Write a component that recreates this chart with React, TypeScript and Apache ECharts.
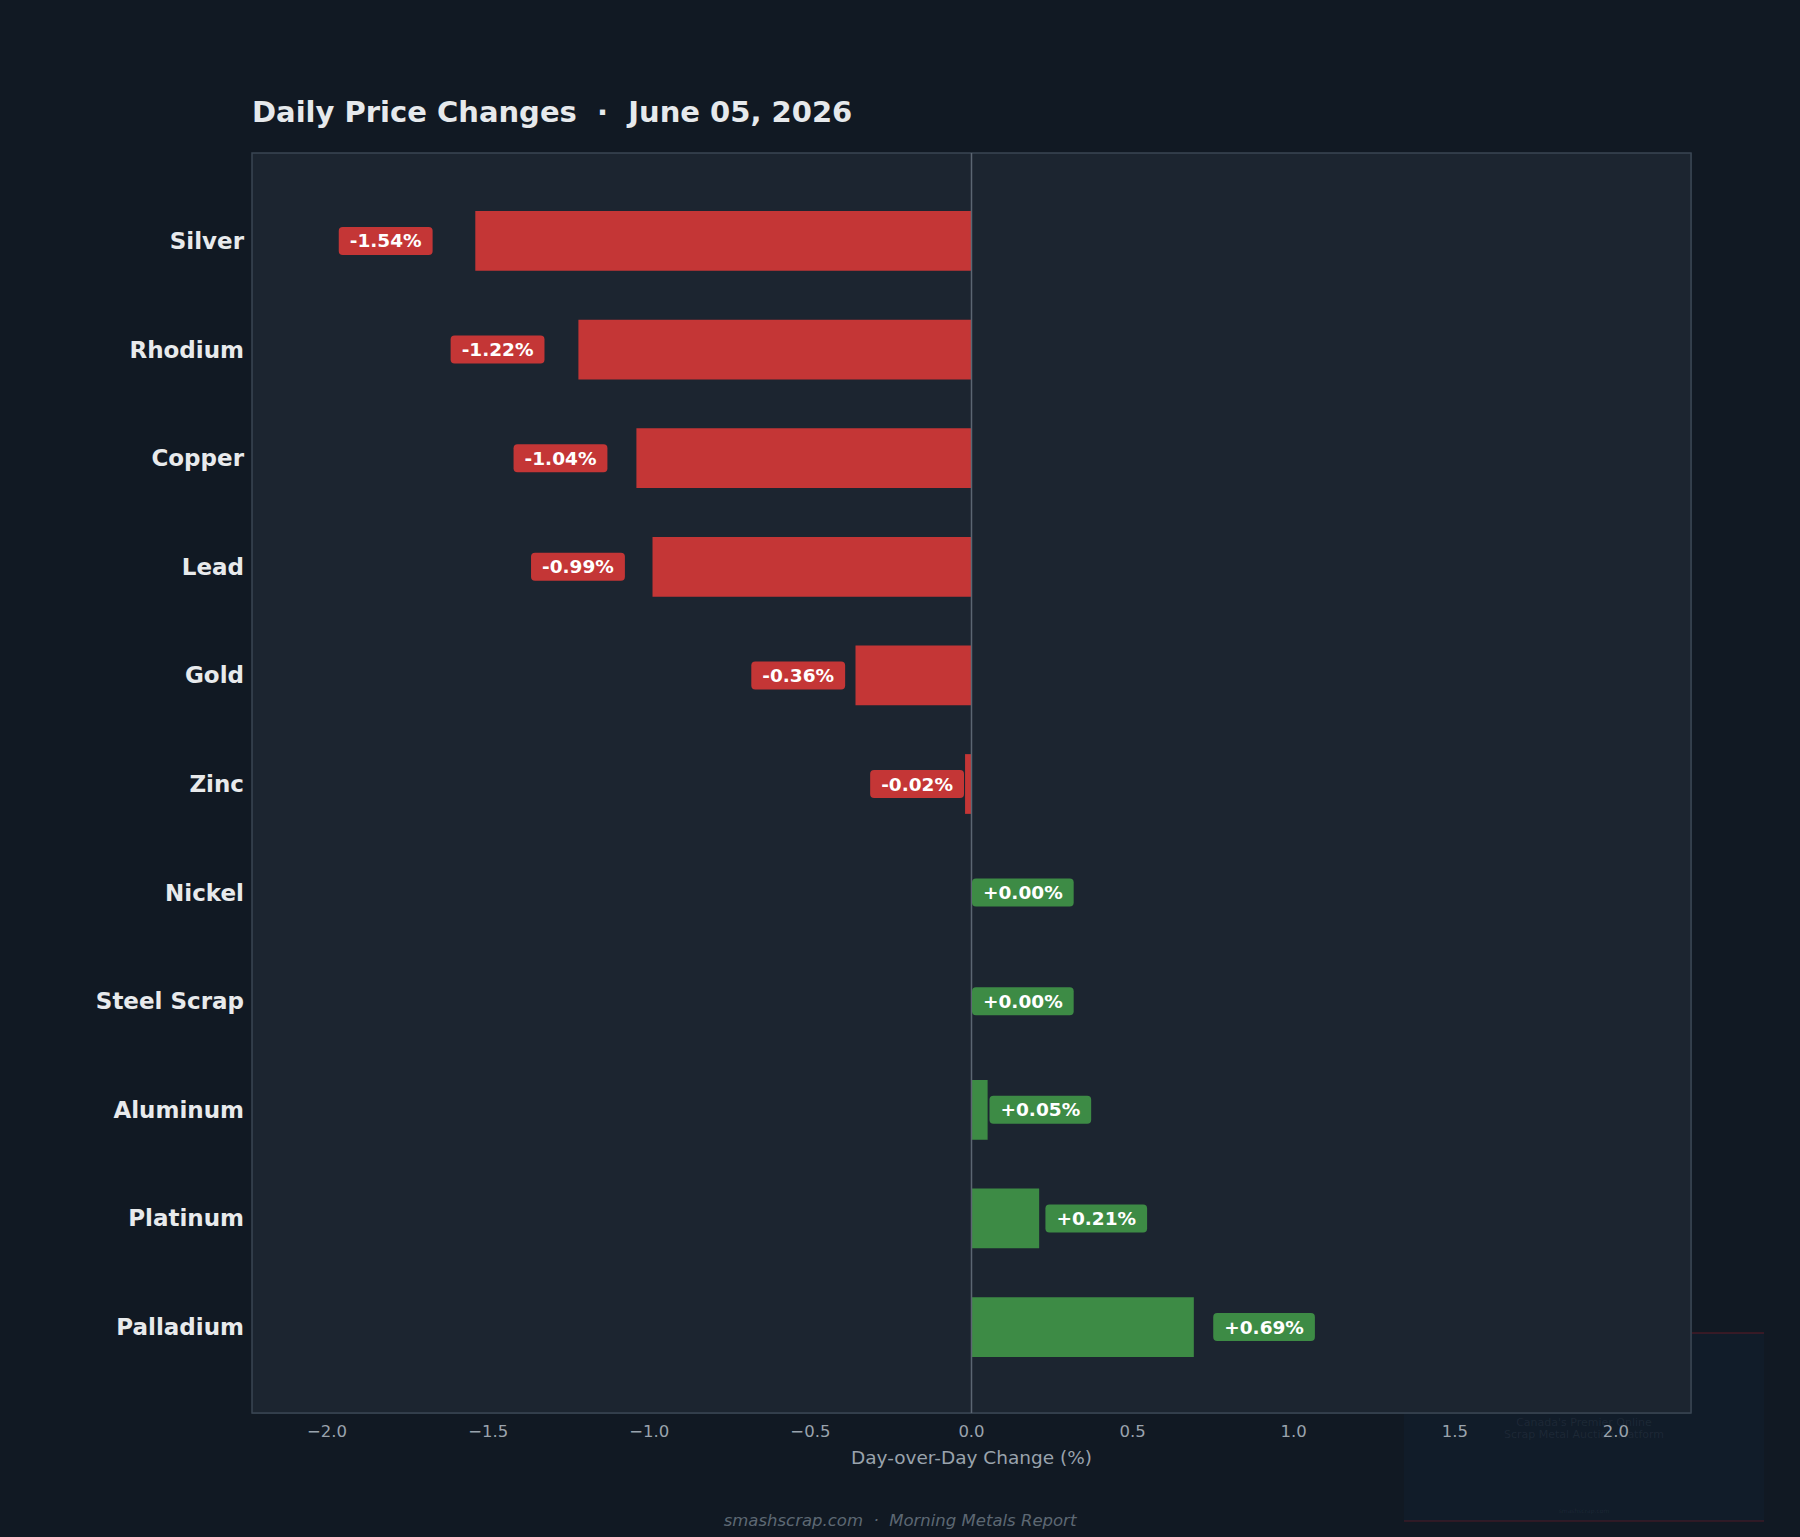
import React, { useEffect, useRef } from "react";
import * as echarts from "echarts";

// Metals, top to bottom, and their day-over-day change in percent
const metals = [
  "Silver",
  "Rhodium",
  "Copper",
  "Lead",
  "Gold",
  "Zinc",
  "Nickel",
  "Steel Scrap",
  "Aluminum",
  "Platinum",
  "Palladium",
];
const changes = [-1.54, -1.22, -1.04, -0.99, -0.36, -0.02, 0.0, 0.0, 0.05, 0.21, 0.69];

const titleText = "Daily Price Changes  \u00b7  June 05, 2026";
const xAxisTitle = "Day-over-Day Change (%)";
const footerText = "smashscrap.com  \u00b7  Morning Metals Report";
const badgeLines = ["Canada's Premier Online", "Scrap Metal Auction Platform"];

const FONT = "DejaVu Sans, Noto Sans, sans-serif";
const BG = "#111923";
const PLOT_BG = "#1c2530";
const FRAME = "#3a4653";
const GRID_LINE = "#222d38";
const RED = "#c43636";
const GREEN = "#3d8b45";

// plot frame in page pixels
const PLOT_L = 252;
const PLOT_R = 1691;
const PLOT_T = 153;
const PLOT_B = 1413;
const W = 1800;
const H = 1537;

// rows occupy 11.6 slots: 0.8 slot of padding above the first and below the last
const ROW_PAD = 0.8;
const slot = (PLOT_B - PLOT_T) / (metals.length - 1 + 2 * ROW_PAD);
const bandTop = PLOT_T + (ROW_PAD - 0.5) * slot + 1;
const bandBottom = PLOT_B - (ROW_PAD - 0.5) * slot + 1;

const xLimit = Math.max(...changes.map((v) => Math.abs(v))) * 1.45;

const fmtTick = (v: number) => {
  const r = Math.round(v * 10) / 10;
  if (Math.abs(r * 2 - Math.round(r * 2)) > 1e-6) return "";
  return (r < 0 ? "\u2212" : "") + Math.abs(r).toFixed(1);
};
const fmtChange = (v: number) => (v >= 0 ? "+" : "-") + Math.abs(v).toFixed(2) + "%";

export default function App() {
  const ref = useRef<HTMLDivElement>(null);

  useEffect(() => {
    document.body.style.margin = "0";
    document.body.style.background = BG;
    if (!ref.current) return;
    const chart = echarts.init(ref.current, null, { renderer: "svg" });

    const barData = changes.map((v) => ({
      value: v,
      itemStyle: { color: v >= 0 ? GREEN : RED },
    }));

    const labelData = changes.map((v, i) => {
      const color = v >= 0 ? GREEN : RED;
      return {
        value: [v * 1.085, metals[i]],
        label: {
          show: true,
          position: v >= 0 ? "right" : "left",
          distance: 0,
          formatter: fmtChange(v),
          color: "#ffffff",
          opacity: 1,
          fontFamily: FONT,
          fontWeight: "bold",
          fontSize: 18.5,
          lineHeight: 18,
          backgroundColor: color,
          borderRadius: 4,
          padding: [5, 11, 5, 11],
        },
      };
    });

    const option: any = {
      animation: false,
      backgroundColor: BG,
      title: {
        text: titleText,
        left: PLOT_L - 5,
        top: 92,
        textStyle: {
          color: "#e6e9ec",
          fontFamily: FONT,
          fontWeight: "bold",
          fontSize: 29,
        },
      },
      grid: [
        {
          left: PLOT_L,
          right: W - PLOT_R,
          top: PLOT_T,
          bottom: H - PLOT_B,
          show: true,
          backgroundColor: PLOT_BG,
          borderColor: FRAME,
          borderWidth: 1.5,
          z: 1,
        },
        {
          left: PLOT_L,
          right: W - PLOT_R,
          top: bandTop,
          bottom: H - bandBottom,
          z: 2,
        },
      ],
      xAxis: [
        {
          gridIndex: 0,
          type: "value",
          min: -xLimit,
          max: xLimit,
          splitNumber: 8,
          axisLine: { show: false },
          axisTick: { show: false },
          axisLabel: {
            color: "#9aa3ad",
            fontFamily: FONT,
            fontSize: 16.5,
            margin: 10,
            showMinLabel: false,
            showMaxLabel: false,
            formatter: fmtTick,
          },
          splitLine: { show: true, lineStyle: { color: GRID_LINE, width: 1 } },
          name: xAxisTitle,
          nameLocation: "middle",
          nameGap: 35,
          nameTextStyle: { color: "#9aa3ad", fontFamily: FONT, fontSize: 18.5 },
        },
        {
          gridIndex: 1,
          type: "value",
          min: -xLimit,
          max: xLimit,
          show: false,
        },
      ],
      yAxis: [
        {
          gridIndex: 0,
          type: "value",
          inverse: true,
          min: -ROW_PAD,
          max: metals.length - 1 + ROW_PAD,
          splitNumber: 11,
          axisLine: { show: false },
          axisTick: { show: false },
          axisLabel: { show: false },
          splitLine: { show: true, lineStyle: { color: GRID_LINE, width: 1 } },
        },
        {
          gridIndex: 1,
          type: "category",
          inverse: true,
          data: metals,
          axisLine: { show: false },
          axisTick: { show: false },
          splitLine: { show: false },
          axisLabel: {
            color: "#e8eaec",
            fontFamily: FONT,
            fontWeight: "bold",
            fontSize: 23,
            margin: 8,
          },
        },
      ],
      series: [
        {
          type: "bar",
          xAxisIndex: 1,
          yAxisIndex: 1,
          data: barData,
          barWidth: slot * 0.55,
          clip: false,
          z: 3,
        },
        {
          // zero reference line
          type: "line",
          xAxisIndex: 0,
          yAxisIndex: 0,
          data: [
            [0, -ROW_PAD],
            [0, metals.length - 1 + ROW_PAD],
          ],
          showSymbol: false,
          symbol: "none",
          silent: true,
          lineStyle: { color: "#5b6672", width: 1.5 },
          z: 4,
        },
        {
          type: "scatter",
          xAxisIndex: 1,
          yAxisIndex: 1,
          data: labelData,
          symbolSize: 1,
          itemStyle: { color: "rgba(0,0,0,0)", opacity: 1 },
          silent: true,
          z: 5,
        },
      ],
      graphic: [
        {
          type: "group",
          z: -100,
          silent: true,
          children: [
            {
              type: "rect",
              shape: { x: 1404, y: 1333, width: 360, height: 188 },
              style: { fill: "rgba(18,32,48,0.5)" },
            },
            {
              type: "line",
              shape: { x1: 1404, y1: 1333, x2: 1764, y2: 1333 },
              style: { stroke: "rgba(120,28,40,0.5)", lineWidth: 1.5 },
            },
            {
              type: "line",
              shape: { x1: 1404, y1: 1521, x2: 1764, y2: 1521 },
              style: { stroke: "rgba(120,28,40,0.4)", lineWidth: 1.5 },
            },
            {
              type: "text",
              x: 1584,
              y: 1422,
              style: {
                text: badgeLines[0],
                fill: "rgba(120,132,148,0.13)",
                font: "11px " + FONT,
                align: "center",
                verticalAlign: "middle",
              },
            },
            {
              type: "text",
              x: 1584,
              y: 1434,
              style: {
                text: badgeLines[1],
                fill: "rgba(120,132,148,0.13)",
                font: "11px " + FONT,
                align: "center",
                verticalAlign: "middle",
              },
            },
            {
              type: "text",
              x: 1584,
              y: 1510,
              style: {
                text: "smashscrap.com",
                fill: "rgba(120,132,148,0.12)",
                font: "6px " + FONT,
                align: "center",
                verticalAlign: "middle",
              },
            },
          ],
        },
        {
          type: "text",
          x: W / 2,
          y: 1520,
          silent: true,
          style: {
            text: footerText,
            fill: "#5d6873",
            font: "italic 16.5px " + FONT,
            align: "center",
            verticalAlign: "middle",
          },
        },
      ],
    };

    chart.setOption(option);
    return () => chart.dispose();
  }, []);

  return <div ref={ref} style={{ width: W, height: H }} />;
}
